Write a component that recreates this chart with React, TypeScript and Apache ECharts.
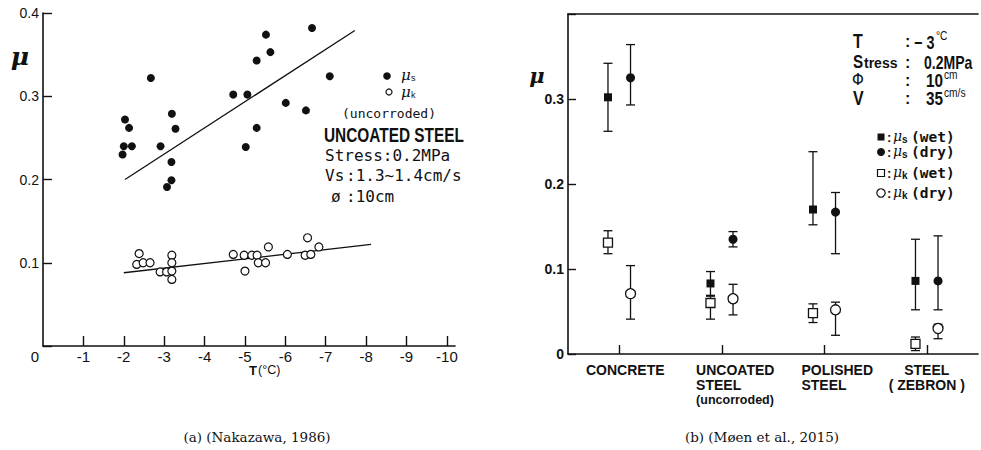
import React, { useEffect, useRef } from "react";
import * as echarts from "echarts";

// ---------- Panel (a): uncoated steel, friction vs. temperature ----------
// [temperature °C, μ]
const staticFrictionA: [number, number][] = [
  [-2.03, 0.272], [-2.13, 0.262], [-2.0, 0.24], [-2.2, 0.24], [-1.97, 0.23],
  [-2.67, 0.322], [-2.91, 0.24], [-3.19, 0.279], [-3.28, 0.261], [-3.18, 0.221],
  [-3.18, 0.199], [-3.07, 0.191], [-4.71, 0.302], [-5.06, 0.302], [-5.02, 0.239],
  [-5.52, 0.374], [-6.66, 0.382], [-5.63, 0.353], [-5.29, 0.343], [-7.1, 0.324],
  [-6.01, 0.292], [-6.51, 0.283], [-5.29, 0.262],
];
const kineticFrictionA: [number, number][] = [
  [-2.38, 0.111], [-2.32, 0.098], [-2.48, 0.1], [-2.65, 0.1], [-2.9, 0.089],
  [-3.06, 0.089], [-3.19, 0.109], [-3.19, 0.1], [-3.19, 0.09], [-3.19, 0.08],
  [-4.71, 0.11], [-5.0, 0.09], [-4.98, 0.109], [-5.17, 0.109], [-5.3, 0.109],
  [-5.33, 0.1], [-5.51, 0.1], [-5.58, 0.119], [-6.05, 0.11], [-6.49, 0.109],
  [-6.63, 0.11], [-6.55, 0.13], [-6.83, 0.119],
];
const staticFitA: [number, number][] = [[-2.03, 0.2], [-7.72, 0.379]];
const kineticFitA: [number, number][] = [[-2.0, 0.088], [-8.12, 0.122]];
const temperatureTicks = [0, -1, -2, -3, -4, -5, -6, -7, -8, -9, -10];

// ---------- Panel (b): friction per surface material ----------
const materials = ["CONCRETE", "UNCOATED\nSTEEL\n(uncorroded)", "POLISHED\nSTEEL", "STEEL\n( ZEBRON )"];
const staticWet = [0.302, 0.083, 0.17, 0.086];
const staticWetLow = [0.262, 0.069, 0.152, 0.052];
const staticWetHigh = [0.342, 0.097, 0.238, 0.135];
const staticDry = [0.325, 0.135, 0.167, 0.086];
const staticDryLow = [0.293, 0.126, 0.118, 0.052];
const staticDryHigh = [0.364, 0.144, 0.19, 0.139];
const kineticWet = [0.131, 0.06, 0.048, 0.012];
const kineticWetLow = [0.118, 0.041, 0.037, 0.004];
const kineticWetHigh = [0.145, 0.068, 0.059, 0.02];
const kineticDry = [0.071, 0.065, 0.052, 0.03];
const kineticDryLow = [0.041, 0.046, 0.022, 0.018];
const kineticDryHigh = [0.104, 0.082, 0.061, 0.035];

const INK = "#111111";
const SANS = "'Liberation Sans', Arial, sans-serif";
const MONO = "'DejaVu Sans Mono', monospace";
const SERIF = "'DejaVu Serif', serif";

type Txt = {
  x: number; y: number; text: string; size: number; font?: string;
  weight?: string; italic?: boolean; align?: string; sx?: number;
};
// free-standing label; sx < 1 narrows the lettering around its anchor
const txt = ({ x, y, text, size, font = SANS, weight = "normal", italic = false, align = "left", sx = 1 }: Txt) => ({
  type: "text",
  x,
  y,
  scaleX: sx,
  silent: true,
  style: {
    text,
    fill: INK,
    fontSize: size,
    fontFamily: font,
    fontWeight: weight,
    fontStyle: italic ? "italic" : "normal",
    textAlign: align,
    textVerticalAlign: "middle",
  },
});

// error bar with caps, drawn in the material grid
const errorBarItem = (_params: any, api: any) => {
  const x = api.value(0);
  const hi = api.coord([x, api.value(2)]);
  const lo = api.coord([x, api.value(1)]);
  const half = 4.5;
  const style = { stroke: INK, lineWidth: 1.3 };
  return {
    type: "group",
    children: [
      { type: "line", shape: { x1: hi[0], y1: hi[1], x2: lo[0], y2: lo[1] }, style },
      { type: "line", shape: { x1: hi[0] - half, y1: hi[1], x2: hi[0] + half, y2: hi[1] }, style },
      { type: "line", shape: { x1: lo[0] - half, y1: lo[1], x2: lo[0] + half, y2: lo[1] }, style },
    ],
  };
};

const WET_SHIFT = -0.11;
const DRY_SHIFT = 0.11;

const groupSeries = (
  name: string,
  values: number[],
  low: number[],
  high: number[],
  shift: number,
  symbol: string,
  size: number,
  filled: boolean
) => [
  {
    name: name + " range",
    type: "custom",
    xAxisIndex: 2,
    yAxisIndex: 1,
    renderItem: errorBarItem,
    encode: { x: 0, y: [1, 2] },
    data: values.map((_, i) => [i + shift, low[i], high[i]]),
    z: 2,
  },
  {
    name,
    type: "scatter",
    xAxisIndex: 2,
    yAxisIndex: 1,
    symbol,
    symbolSize: size,
    itemStyle: filled
      ? { color: INK, opacity: 1 }
      : { color: "#fff", borderColor: INK, borderWidth: 1.3, opacity: 1 },
    data: values.map((v, i) => [i + shift, v]),
    z: 3,
  },
];

const legendRow = (y: number, mark: any, sub: string, cond: string) => [
  mark,
  txt({ x: 887, y, text: ":", size: 13, weight: "bold" }),
  txt({ x: 893, y: y - 1, text: "μ", size: 14, italic: true, font: SERIF }),
  txt({ x: 902, y: y + 2, text: sub, size: 10, weight: "bold" }),
  txt({ x: 911, y, text: cond, size: 14.5, weight: "bold", font: MONO }),
];

// category label styles: horizontal nudge and line alignment per material
const categoryRich: any = {
  c0: { padding: [0, 0, 0, 12] },
  c1: { align: "left", padding: [0, 0, 0, 27] },
  c2: { align: "left", padding: [0, 0, 0, 26] },
  c3: {},
};
Object.keys(categoryRich).forEach((k) => {
  categoryRich[k] = {
    fontFamily: SANS, fontWeight: "bold", fontSize: 14, lineHeight: 15, color: INK, ...categoryRich[k],
  };
});
categoryRich.u1 = { ...categoryRich.c1, fontSize: 12.5, lineHeight: 16 };

export default function App() {
  const ref = useRef<HTMLDivElement>(null);

  useEffect(() => {
    if (!ref.current) return;
    const chart = echarts.init(ref.current, undefined, { renderer: "svg" });
    const axisLine = { show: true, onZero: false, lineStyle: { color: INK, width: 1.6 } };

    const option: any = {
      animation: false,
      backgroundColor: "#fff",
      grid: [
        { left: 43, top: 13, width: 412, height: 333 },
        { left: 568, top: 14, width: 410, height: 340 },
      ],
      xAxis: [
        {
          gridIndex: 0,
          type: "value",
          min: -10.2,
          max: 0,
          inverse: true,
          axisLine,
          splitLine: { show: false },
          axisTick: {
            show: true,
            inside: true,
            length: 10,
            lineStyle: { color: INK, width: 1.4 },
            customValues: temperatureTicks.filter((t) => t !== 0),
          },
          axisLabel: {
            customValues: temperatureTicks,
            margin: 3,
            color: INK,
            fontSize: 15,
            fontFamily: SANS,
            formatter: (v: number) => (v === 0 ? "{o|0}" : String(v)),
            rich: { o: { fontSize: 15, fontFamily: SANS, padding: [0, 16, 0, 0] } },
          },
        },
        {
          gridIndex: 1,
          type: "category",
          data: materials,
          boundaryGap: true,
          axisLine,
          splitLine: { show: false },
          axisTick: {
            show: true,
            inside: true,
            alignWithLabel: true,
            length: 9,
            lineStyle: { color: INK, width: 1.4 },
          },
          axisLabel: {
            interval: 0,
            margin: 8,
            formatter: (v: string, idx: number) =>
              v
                .split("\n")
                .map((line) => (line === "(uncorroded)" ? `{u${idx}|${line}}` : `{c${idx}|${line}}`))
                .join("\n"),
            rich: categoryRich,
          },
        },
        { gridIndex: 1, type: "value", min: -0.5, max: 3.5, show: false },
        {
          gridIndex: 1,
          type: "value",
          position: "top",
          min: 0,
          max: 1,
          axisLine,
          axisTick: { show: false },
          axisLabel: { show: false },
          splitLine: { show: false },
        },
      ],
      yAxis: [
        {
          gridIndex: 0,
          type: "value",
          min: 0,
          max: 0.4,
          interval: 0.1,
          axisLine,
          splitLine: { show: false },
          axisTick: { show: true, inside: true, length: 9, lineStyle: { color: INK, width: 1.4 } },
          axisLabel: {
            margin: 4,
            color: INK,
            fontSize: 14,
            fontFamily: SANS,
            formatter: (v: number) => (v === 0 ? "" : v.toFixed(1)),
          },
        },
        {
          gridIndex: 1,
          type: "value",
          min: 0,
          max: 0.4,
          interval: 0.1,
          axisLine,
          splitLine: { show: false },
          axisTick: { show: true, inside: true, length: 8, lineStyle: { color: INK, width: 1.4 } },
          axisLabel: {
            margin: 4,
            color: INK,
            fontSize: 14,
            fontWeight: "bold",
            fontFamily: SANS,
            formatter: (v: number) => (v > 0.35 ? "" : v === 0 ? "0" : v.toFixed(1)),
          },
        },
      ],
      series: [
        {
          name: "μs",
          type: "scatter",
          xAxisIndex: 0,
          yAxisIndex: 0,
          symbol: "circle",
          symbolSize: 8,
          itemStyle: { color: INK, opacity: 1 },
          data: staticFrictionA,
        },
        {
          name: "μk",
          type: "scatter",
          xAxisIndex: 0,
          yAxisIndex: 0,
          symbol: "circle",
          symbolSize: 8,
          itemStyle: { color: "#fff", borderColor: INK, borderWidth: 1.2, opacity: 1 },
          data: kineticFrictionA,
          z: 3,
        },
        {
          name: "μs fit",
          type: "line",
          xAxisIndex: 0,
          yAxisIndex: 0,
          symbol: "none",
          lineStyle: { color: INK, width: 1.3 },
          data: staticFitA,
        },
        {
          name: "μk fit",
          type: "line",
          xAxisIndex: 0,
          yAxisIndex: 0,
          symbol: "none",
          lineStyle: { color: INK, width: 1.3 },
          data: kineticFitA,
          z: 1,
        },
        ...groupSeries("μs (wet)", staticWet, staticWetLow, staticWetHigh, WET_SHIFT, "rect", 8, true),
        ...groupSeries("μs (dry)", staticDry, staticDryLow, staticDryHigh, DRY_SHIFT, "circle", 9, true),
        ...groupSeries("μk (wet)", kineticWet, kineticWetLow, kineticWetHigh, WET_SHIFT, "rect", 9, false),
        ...groupSeries("μk (dry)", kineticDry, kineticDryLow, kineticDryHigh, DRY_SHIFT, "circle", 10, false),
      ],
      graphic: [
        // panel (a) annotations
        txt({ x: 20, y: 56, text: "μ", size: 25, weight: "bold", italic: true, font: SERIF, align: "center" }),
        txt({ x: 249, y: 370, text: "T", size: 13, weight: "bold" }),
        txt({ x: 258, y: 370, text: "(°C)", size: 12.5 }),
        { type: "circle", shape: { cx: 387, cy: 76, r: 3.8 }, style: { fill: INK }, silent: true },
        txt({ x: 401, y: 75, text: "μ", size: 15, italic: true, font: SERIF }),
        txt({ x: 411, y: 78, text: "s", size: 9 }),
        { type: "circle", shape: { cx: 389, cy: 92, r: 3 }, style: { fill: "#fff", stroke: INK, lineWidth: 1.2 }, silent: true },
        txt({ x: 401, y: 92, text: "μ", size: 15, italic: true, font: SERIF }),
        txt({ x: 411, y: 95, text: "k", size: 9 }),
        txt({ x: 389, y: 113, text: "(uncorroded)", size: 13, font: MONO, align: "center" }),
        txt({ x: 324, y: 135, text: "UNCOATED STEEL", size: 20, weight: "bold", sx: 0.77 }),
        txt({ x: 325, y: 155, text: "Stress:0.2MPa", size: 16, font: MONO }),
        txt({ x: 325, y: 175, text: "Vs", size: 16, font: MONO }),
        txt({ x: 346, y: 175, text: ":1.3~1.4cm/s", size: 16, font: MONO }),
        txt({ x: 331, y: 196, text: "ø", size: 16, font: MONO }),
        txt({ x: 346, y: 196, text: ":10cm", size: 16, font: MONO }),
        // panel (b) annotations
        txt({ x: 537, y: 75, text: "μ", size: 21, weight: "bold", italic: true, font: SERIF, align: "center" }),
        txt({ x: 853, y: 41, text: "T", size: 20, weight: "bold", sx: 0.8 }),
        txt({ x: 853, y: 61, text: "S", size: 19, weight: "bold", sx: 0.8 }),
        txt({ x: 864, y: 63, text: "tress", size: 14, weight: "bold" }),
        txt({ x: 852, y: 80, text: "Φ", size: 15, font: "'DejaVu Sans', sans-serif" }),
        txt({ x: 853, y: 98, text: "V", size: 20, weight: "bold", sx: 0.8 }),
        txt({ x: 905, y: 41, text: ":", size: 16, weight: "bold" }),
        txt({ x: 905, y: 62, text: ":", size: 16, weight: "bold" }),
        txt({ x: 905, y: 80, text: ":", size: 16, weight: "bold" }),
        txt({ x: 905, y: 98, text: ":", size: 16, weight: "bold" }),
        txt({ x: 914, y: 42, text: "− 3", size: 18, weight: "bold", sx: 0.8 }),
        txt({ x: 936, y: 36, text: "°C", size: 12, sx: 0.85 }),
        txt({ x: 924, y: 62, text: "0.2MPa", size: 18, weight: "bold", sx: 0.78 }),
        txt({ x: 926, y: 81, text: "10", size: 18, weight: "bold", sx: 0.85 }),
        txt({ x: 944, y: 75, text: "cm", size: 12, sx: 0.85 }),
        txt({ x: 926, y: 99, text: "35", size: 18, weight: "bold", sx: 0.85 }),
        txt({ x: 944, y: 93, text: "cm/s", size: 12, sx: 0.85 }),
        ...legendRow(137, { type: "rect", shape: { x: 877.5, y: 133.5, width: 7, height: 7 }, style: { fill: INK }, silent: true }, "s", "(wet)"),
        ...legendRow(152, { type: "circle", shape: { cx: 881, cy: 152, r: 4 }, style: { fill: INK }, silent: true }, "s", "(dry)"),
        ...legendRow(173, { type: "rect", shape: { x: 877.5, y: 169.5, width: 7, height: 7 }, style: { fill: "#fff", stroke: INK, lineWidth: 1.2 }, silent: true }, "k", "(wet)"),
        ...legendRow(193, { type: "circle", shape: { cx: 881, cy: 193, r: 4.2 }, style: { fill: "#fff", stroke: INK, lineWidth: 1.2 }, silent: true }, "k", "(dry)"),
        // captions
        txt({ x: 257, y: 437, text: "(a) (Nakazawa, 1986)", size: 13.5, font: SERIF, align: "center" }),
        txt({ x: 762, y: 437, text: "(b) (Møen et al., 2015)", size: 13.5, font: SERIF, align: "center" }),
      ],
    };

    chart.setOption(option);
    return () => chart.dispose();
  }, []);

  return (
    <div
      ref={ref}
      style={{ position: "absolute", left: 0, top: 0, width: 981, height: 450, background: "#fff" }}
    />
  );
}
